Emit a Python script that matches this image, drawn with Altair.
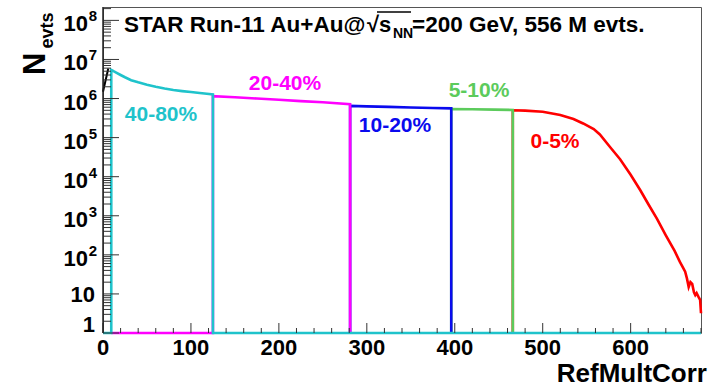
import altair as alt
import pandas as pd

W, H = 598, 326
FONT = "Liberation Sans"

# ---------------- data ----------------
cent_labels = ["40-80%", "20-40%", "10-20%", "5-10%", "0-5%"]
cent_colors = ["#1FC3CB", "#FF00FF", "#0A0AEE", "#5CCB5C", "#FF0000"]

cyan_x = [9.4, 12, 15, 20, 25, 32, 40, 50, 60, 70, 80, 90, 100, 110, 118, 125]
cyan_y = [5.4e6, 5.0e6, 4.6e6, 4.0e6, 3.5e6, 2.95e6, 2.6e6, 2.25e6, 2.0e6, 1.8e6,
          1.65e6, 1.55e6, 1.47e6, 1.38e6, 1.32e6, 1.27e6]

magenta_x = [125, 150, 175, 200, 225, 250, 281]
magenta_y = [1.15e6, 1.08e6, 1.0e6, 9.3e5, 8.6e5, 8.0e5, 7.2e5]

blue_x = [281, 300, 325, 350, 375, 396]
blue_y = [6.5e5, 6.3e5, 6.1e5, 5.9e5, 5.75e5, 5.6e5]

green_x = [396, 420, 445, 466]
green_y = [5.4e5, 5.3e5, 5.2e5, 5.1e5]

red_x = [466, 480, 500, 520, 535, 546, 558, 565, 577, 588, 600, 611, 620, 630, 640,
         650, 656, 660, 662, 664, 666, 668, 670, 672, 673.5, 675, 677, 679, 680]
red_y = [5.0e5, 4.9e5, 4.6e5, 3.8e5, 3.0e5, 2.3e5, 1.65e5, 1.2e5, 5.6e4, 2.8e4,
         1.12e4, 4.5e3, 2.0e3, 830, 316, 126, 66, 45, 37, 25, 15, 20, 18, 11, 9.3,
         10.5, 8.5, 7, 3.2]

# all-events histogram (black) visible left of the 40-80% class
black_x = [0, 6]
black_y = [1.5e6, 5.9e6]

x_range = [0, 680]
y_min, y_max = 1, 2.2e8           # histogram minimum (empty bins drawn here)

x_major = [0, 100, 200, 300, 400, 500, 600]
x_minor = [v for v in range(0, 681, 20) if v % 100 != 0]
y_major = [10 ** k for k in range(0, 9)]
y_minor = [m * 10 ** k for k in range(0, 9) for m in range(2, 10) if m * 10 ** k <= y_max]
y_exp = ["", "", "2", "3", "4", "5", "6", "7", "8"]
y_base = ["1", "10", "10", "10", "10", "10", "10", "10", "10"]

# ---------------- scales ----------------
xs = alt.Scale(domain=x_range, nice=False, zero=False)
ys = alt.Scale(type="log", domain=[y_min, y_max], nice=False)


def X(f="x"):
    return alt.X(f, type="quantitative", scale=xs, axis=None)


def Y(f="y"):
    return alt.Y(f, type="quantitative", scale=ys, axis=None)


series = [(cyan_x, cyan_y), (magenta_x, magenta_y), (blue_x, blue_y),
          (green_x, green_y), (red_x, red_y)]

hist_layers = []
for i, (lab, col, (sx, sy)) in enumerate(zip(cent_labels, cent_colors, series)):
    pts = []
    if i == 0:
        pts.append((x_range[0], y_min))
    if i == 1:
        pts.append((cyan_x[0], y_min))
    pts.append((sx[0], y_min))
    pts += list(zip(sx, sy))
    if i < len(series) - 1:
        pts.append((sx[-1], y_min))
    if i == 0:
        pts.append((x_range[1], y_min))
    df = pd.DataFrame({"x": [p[0] for p in pts], "y": [p[1] for p in pts],
                       "o": list(range(len(pts)))})
    hist_layers.append(
        alt.Chart(df).mark_line(color=col, strokeWidth=2.6, clip=False)
        .encode(x=X(), y=Y(), order="o:Q")
    )

layers = []
layers += hist_layers[::-1]

# black segment
layers.append(
    alt.Chart(pd.DataFrame({"x": black_x, "y": black_y, "o": [0, 1]}))
    .mark_line(color="black", strokeWidth=2)
    .encode(x=X(), y=Y(), order="o:Q")
)

# centrality class labels (pixel positions inside the plot)
label_pos = [(58, 114), (182, 83), (292, 125), (376, 90), (452, 141)]
for lab, col, (px, py) in zip(cent_labels, cent_colors, label_pos):
    layers.append(
        alt.Chart(pd.DataFrame({"t": [lab]}))
        .mark_text(font=FONT, fontWeight="bold", fontSize=21, color=col,
                   align="center", baseline="alphabetic")
        .encode(text="t:N", x=alt.value(px), y=alt.value(py))
    )

# ---------------- ticks ----------------
tick_col = "#333333"
layers.append(
    alt.Chart(pd.DataFrame({"y": y_major})).mark_rule(color=tick_col, strokeWidth=1)
    .encode(y=Y(), x=alt.value(0), x2=alt.value(16))
)
layers.append(
    alt.Chart(pd.DataFrame({"y": y_minor})).mark_rule(color=tick_col, strokeWidth=1)
    .encode(y=Y(), x=alt.value(0), x2=alt.value(8))
)
layers.append(
    alt.Chart(pd.DataFrame({"x": x_major})).mark_rule(color=tick_col, strokeWidth=1)
    .encode(x=X(), y=alt.value(H), y2=alt.value(H - 10))
)
layers.append(
    alt.Chart(pd.DataFrame({"x": x_minor})).mark_rule(color=tick_col, strokeWidth=1)
    .encode(x=X(), y=alt.value(H), y2=alt.value(H - 5))
)
# left axis line
layers.append(
    alt.Chart(pd.DataFrame({"a": [0]})).mark_rule(color="#222222", strokeWidth=1.5)
    .encode(x=alt.value(0), y=alt.value(0), y2=alt.value(H))
)

# ---------------- tick labels ----------------
ylab = pd.DataFrame({"y": y_major, "b": y_base, "e": y_exp})
ylab_plain = ylab[ylab["e"] == ""]
ylab_pow = ylab[ylab["e"] != ""]
layers.append(
    alt.Chart(ylab_plain.iloc[[0]]).mark_text(font=FONT, fontWeight="bold", fontSize=22,
                                              align="right", baseline="alphabetic", dy=-1)
    .encode(y=Y(), x=alt.value(-8), text="b:N")
)
layers.append(
    alt.Chart(ylab_plain.iloc[[1]]).mark_text(font=FONT, fontWeight="bold", fontSize=22,
                                              align="right", baseline="alphabetic", dy=8)
    .encode(y=Y(), x=alt.value(-8), text="b:N")
)
layers.append(
    alt.Chart(ylab_pow).mark_text(font=FONT, fontWeight="bold", fontSize=22,
                                  align="right", baseline="alphabetic", dy=11)
    .encode(y=Y(), x=alt.value(-15), text="b:N")
)
layers.append(
    alt.Chart(ylab_pow).mark_text(font=FONT, fontWeight="bold", fontSize=15,
                                  align="right", baseline="alphabetic", dy=1)
    .encode(y=Y(), x=alt.value(-6), text="e:N")
)
layers.append(
    alt.Chart(pd.DataFrame({"x": x_major, "t": [str(v) for v in x_major]}))
    .mark_text(font=FONT, fontWeight="bold", fontSize=22, align="center",
               baseline="alphabetic")
    .encode(x=X(), y=alt.value(H + 22), text="t:N")
)

# ---------------- titles ----------------
def txt(s, px, py, size, align="left", angle=0, color="black"):
    kw = dict(font=FONT, fontWeight="bold", fontSize=size, align=align,
              baseline="alphabetic", color=color)
    if angle:
        kw["angle"] = angle
    return (alt.Chart(pd.DataFrame({"t": [s]})).mark_text(**kw)
            .encode(text="t:N", x=alt.value(px), y=alt.value(py)))


layers += [
    txt("STAR Run-11 Au+Au@", 21, 25, 22.5),
    txt("\u221a", 264, 25, 22),
    txt("s", 276, 25, 22),
    txt("NN", 290, 31, 14),
    txt("=200 GeV, 556 M evts.", 309, 25, 22.5),
    txt("N", -58, 68, 31, angle=270),
    txt("evts", -50, 41.5, 18, angle=270),
    txt("RefMultCorr", 604, 375, 26, align="right"),
]
layers.append(
    alt.Chart(pd.DataFrame({"a": [0]})).mark_rule(color="black", strokeWidth=1.5)
    .encode(x=alt.value(274), x2=alt.value(308), y=alt.value(5))
)

chart = (
    alt.layer(*layers)
    .properties(width=W, height=H,
                autosize=alt.AutoSizeParams(type="none"),
                padding={"left": 103, "top": 7, "right": 9, "bottom": 54},
                background="white")
    .configure_view(stroke="#555555", strokeWidth=1)
)

chart.save("out.html", embed_options={"renderer": "svg", "actions": False})
